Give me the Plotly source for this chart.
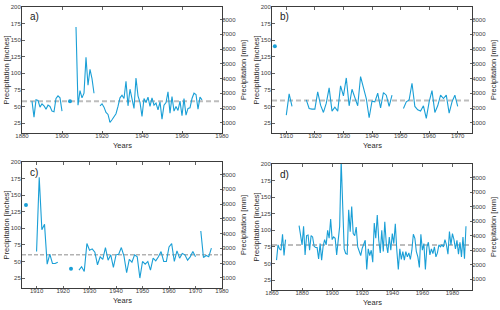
import plotly.graph_objects as go

# ---------------- data ----------------
# Panel a
a_seg1_start = 1885
a_seg1 = [58, 34, 60, 59, 49, 54, 51, 46, 52, 50, 43, 42, 62, 66, 63, 43]
a_dot_years = [1904]
a_dot_vals = [58]
a_seg2_start = 1907
a_seg2 = [170, 52, 74, 63, 70, 124, 82, 106, 92, 70]
a_seg3_start = 1919
a_seg3 = [51, 54, 49, 41, 38, 26, 30, 34, 39, 50,
          63, 67, 62, 88, 51, 76, 62, 47, 93, 66,
          56, 35, 62, 56, 64, 50, 63, 52, 55, 45,
          57, 31, 52, 56, 72, 40, 65, 43, 50, 44,
          58, 36, 62, 37, 47, 48, 62, 70, 68, 46,
          64, 60]
a_mean = 58

# Panel b
b_dot_years = [1906]
b_dot_vals = [141]
b_seg1_start = 1910
b_seg1 = [37, 69, 50]
b_seg2_start = 1917
b_seg2 = [60, 47, 46, 46, 72, 52, 41, 55, 78, 43,
          49, 43, 81, 66, 93, 51, 76, 62, 51, 95,
          80, 62, 33, 58, 57, 70, 48, 71, 67, 50, 67]
b_seg3_start = 1951
b_seg3 = [47, 57, 60, 85, 50, 45, 43, 51, 32, 57,
          74, 41, 51, 67, 62, 67, 40, 57, 67, 50]
b_mean = 59

# Panel c
c_dot_years = [1906, 1923]
c_dot_vals = [135, 39]
c_seg1_start = 1910
c_seg1 = [65, 177, 98, 106, 46, 61, 47, 47, 49]
c_seg2_start = 1926
c_seg2 = [37, 42, 35, 77, 67, 69, 64, 45, 57, 53,
          71, 52, 60, 41, 60, 61, 71, 58, 33, 53,
          49, 60, 57, 25, 50, 46, 50, 37, 55, 51,
          57, 65, 50, 50, 72, 77, 50, 66, 55, 62,
          60, 52, 57, 65, 57]
c_seg3_start = 1972
c_seg3 = [96, 56, 59, 57, 70]
c_mean = 60

# Panel d
d_seg1_start = 1863
d_seg1 = [55, 78, 72, 70, 94, 62, 86]
d_seg2_start = 1878
d_seg2 = [107, 88, 78, 106, 63, 92, 93, 70, 92, 90,
          76, 74, 74, 57, 80, 55, 76, 86, 78, 100,
          88, 117, 86, 90, 88, 63, 88, 106, 205, 120,
          72, 65, 64, 131, 98, 136, 95, 92, 105, 75,
          68, 62, 73, 78, 85, 41, 72, 62, 70, 52,
          111, 88, 123, 85, 66, 100, 68, 113, 80, 66,
          90, 70, 95, 80, 110, 70, 41, 72, 56, 68,
          55, 68, 60, 66, 56, 70, 94, 88, 68, 60,
          44, 94, 70, 80, 41, 75, 82, 63, 72, 65,
          75, 60, 66, 78, 75, 78, 75, 86, 78, 64,
          98, 78, 95, 86, 72, 85, 64, 82, 60, 90,
          57, 106]
d_mean = 78

inch_ticks = [25, 50, 75, 100, 125, 150, 175, 200]
mm_ticks = [1000, 2000, 3000, 4000, 5000, 6000, 7000, 8000]
panel_labels = ["a)", "b)", "c)", "d)"]

# ---------------- helpers ----------------
W, H = 500, 310
LINE = "#1a9fd6"
AX = "#3c3c3c"
TICKC = "#404040"
FONT = "Liberation Sans"


def build(segments):
    xs, ys = [], []
    for start, vals in segments:
        if xs:
            xs.append(None)
            ys.append(None)
        xs.extend(range(start, start + len(vals)))
        ys.extend(vals)
    return xs, ys


panels = [
    dict(segs=[(a_seg1_start, a_seg1), (a_seg2_start, a_seg2), (a_seg3_start, a_seg3)],
         dots=(a_dot_years, a_dot_vals), mean=a_mean,
         xr=[1880, 1980], xt=[1880, 1900, 1920, 1940, 1960, 1980],
         px=(22, 222), py=(7, 133), mmr=[322, 8840], dash="light"),
    dict(segs=[(b_seg1_start, b_seg1), (b_seg2_start, b_seg2), (b_seg3_start, b_seg3)],
         dots=(b_dot_years, b_dot_vals), mean=b_mean,
         xr=[1905, 1975], xt=[1910, 1920, 1930, 1940, 1950, 1960, 1970],
         px=(272, 472), py=(7, 133), mmr=[322, 8840], dash="light"),
    dict(segs=[(c_seg1_start, c_seg1), (c_seg2_start, c_seg2), (c_seg3_start, c_seg3)],
         dots=(c_dot_years, c_dot_vals), mean=c_mean,
         xr=[1904.5, 1980], xt=[1910, 1920, 1930, 1940, 1950, 1960, 1970, 1980],
         px=(22, 222), py=(162, 288), mmr=[322, 8840], dash="dark"),
    dict(segs=[(d_seg1_start, d_seg1), (d_seg2_start, d_seg2)],
         dots=None, mean=d_mean,
         xr=[1860, 1993], xt=[1860, 1880, 1900, 1920, 1940, 1960, 1980],
         px=(272, 472), py=(164, 290), mmr=[240, 8950], dash="light"),
]

fig = go.Figure()
layout = dict(
    width=W, height=H, margin=dict(l=0, r=0, t=0, b=0, autoexpand=False),
    paper_bgcolor="white", plot_bgcolor="white", showlegend=False,
    font=dict(family=FONT, color=TICKC),
)
shapes, annotations = [], []

for i, p in enumerate(panels):
    n = i + 1
    xname = "x" if n == 1 else f"x{n}"
    yname = "y" if n == 1 else f"y{n}"
    y2name = f"y{n + 4}"
    xdom = [p["px"][0] / W, p["px"][1] / W]
    ydom = [1 - p["py"][1] / H, 1 - p["py"][0] / H]

    xs, ys = build(p["segs"])
    fig.add_trace(go.Scatter(x=xs, y=ys, mode="lines", xaxis=xname, yaxis=yname,
                             line=dict(color=LINE, width=1.1), connectgaps=False,
                             hoverinfo="skip"))
    if p["dots"]:
        fig.add_trace(go.Scatter(x=p["dots"][0], y=p["dots"][1], mode="markers",
                                 xaxis=xname, yaxis=yname,
                                 marker=dict(color=LINE, size=4), hoverinfo="skip"))
    # invisible trace for right axis
    fig.add_trace(go.Scatter(x=[p["xr"][0]], y=[p["mmr"][0]], mode="markers",
                             xaxis=xname, yaxis=y2name, marker=dict(opacity=0),
                             hoverinfo="skip"))

    axcommon = dict(showline=True, linecolor=AX, linewidth=1, ticks="inside",
                    ticklen=2.5, tickcolor=AX, tickwidth=0.8, showgrid=False,
                    zeroline=False, automargin=False,
                    tickfont=dict(size=6, color=TICKC, family=FONT))
    layout["xaxis" if n == 1 else f"xaxis{n}"] = dict(
        domain=xdom, anchor=yname, range=p["xr"], tickvals=p["xt"],
        mirror="ticks", ticklabelstandoff=-3, **axcommon)
    layout["yaxis" if n == 1 else f"yaxis{n}"] = dict(
        domain=ydom, anchor=xname, range=[10, 200], tickvals=inch_ticks,
        ticklabelstandoff=-1, **axcommon)
    layout[f"yaxis{n + 4}"] = dict(
        domain=ydom, anchor=xname, overlaying=yname, side="right",
        range=p["mmr"], tickvals=mm_ticks, ticklabelstandoff=-2, **axcommon)

    if p["dash"] == "light":
        dline = dict(color="#bdbdbd", width=2, dash="5px,3px")
    else:
        dline = dict(color="#8c8c8c", width=1, dash="4px,2px")
    shapes.append(dict(type="line", xref=f"{xname} domain", yref=yname,
                       x0=0, x1=1, y0=p["mean"], y1=p["mean"], line=dline,
                       layer="below"))

    x0, x1 = p["px"]
    y0, y1 = p["py"]
    ymid = (y0 + y1) / 2
    tfont = dict(size=7.5, color="#2a2a2a", family=FONT)
    annotations.append(dict(text="Precipitation [inches]", x=(x0 - 16.5) / W,
                            y=1 - ymid / H, xref="paper", yref="paper",
                            xanchor="center", yanchor="middle",
                            textangle=-90, showarrow=False, font=tfont))
    annotations.append(dict(text="Precipitation [mm]", x=(x1 + 21) / W,
                            y=1 - ymid / H, xref="paper", yref="paper",
                            xanchor="center", yanchor="middle",
                            textangle=-90, showarrow=False, font=tfont))
    annotations.append(dict(text="Years", x=(x0 + x1) / 2 / W,
                            y=1 - (y1 + 12.5) / H, xref="paper", yref="paper",
                            xanchor="center", yanchor="middle",
                            showarrow=False, font=tfont))
    annotations.append(dict(text=panel_labels[i], x=(x0 + 5.5) / W,
                            y=1 - (y0 + 10) / H, xref="paper", yref="paper",
                            xanchor="left", yanchor="middle", showarrow=False,
                            font=dict(size=10, color="#1a1a1a", family=FONT)))

layout["shapes"] = shapes
layout["annotations"] = annotations
fig.update_layout(**layout)
fig.write_html("out.html",
               config={"displayModeBar": False, "staticPlot": True},
               post_script="document.body.style.margin='0';"
                           "document.body.style.overflow='hidden';")
